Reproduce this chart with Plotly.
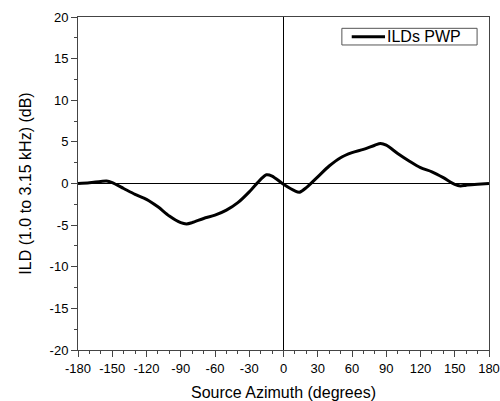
import plotly.graph_objects as go

azimuth = [-180, -170, -160, -155, -150, -140, -130, -120, -110, -100, -90, -85, -80, -70, -60, -50, -40, -30, -20, -15, -10, 0,
           10, 14, 20, 30, 40, 50, 60, 70, 80, 85, 90, 100, 110, 120, 130, 140, 150, 155, 160, 170, 180]
ild_pwp = [0, 0.1, 0.25, 0.3, 0.1, -0.6, -1.3, -1.9, -2.8, -3.9, -4.7, -4.85, -4.7, -4.2, -3.8, -3.2, -2.3, -1.0, 0.5, 1.05, 0.9, -0.1,
           -0.9, -1.05, -0.5, 0.8, 2.1, 3.1, 3.7, 4.1, 4.6, 4.8, 4.6, 3.6, 2.7, 1.9, 1.4, 0.7, -0.1, -0.3, -0.2, -0.1, 0]

x_ticks = [-180, -150, -120, -90, -60, -30, 0, 30, 60, 90, 120, 150, 180]
y_ticks = [-20, -15, -10, -5, 0, 5, 10, 15, 20]
x_labels = [str(v) for v in x_ticks]
y_labels = [str(v) for v in y_ticks]
series_name = "ILDs PWP"

fig = go.Figure()
fig.add_trace(go.Scatter(x=azimuth, y=ild_pwp, mode="lines", name=series_name, showlegend=False,
                         line=dict(color="black", width=3, shape="spline", smoothing=0.8)))

# legend box drawn in paper coordinates (compact, like the original)
fig.add_shape(type="rect", xref="paper", yref="paper", x0=0.642, x1=0.971, y0=0.916, y1=0.966,
              line=dict(color="#555555", width=1), fillcolor="white")
fig.add_shape(type="line", xref="paper", yref="paper", x0=0.666, x1=0.747, y0=0.941, y1=0.941,
              line=dict(color="black", width=3))
fig.add_annotation(text=series_name, xref="paper", yref="paper", x=0.748, y=0.941,
                   xanchor="left", yanchor="middle", showarrow=False, font=dict(size=16))

font = "Liberation Sans, Arial, sans-serif"
fig.update_layout(
    width=500, height=401,
    margin=dict(l=78, r=11, t=17, b=51),
    paper_bgcolor="white", plot_bgcolor="white",
    font=dict(family=font, size=13, color="black"),
    showlegend=False,
    xaxis=dict(range=[-180, 180], tickvals=x_ticks, ticktext=x_labels, ticks="outside", ticklen=6, tickcolor="#444",
               showline=True, linecolor="#444", linewidth=1, mirror=True, showgrid=False,
               zeroline=True, zerolinecolor="black", zerolinewidth=1, automargin=False,
               minor=dict(dtick=10, ticks="outside", ticklen=3, tickcolor="#444"),
               title=dict(text="Source Azimuth (degrees)", font=dict(size=16), standoff=12),
               tickfont=dict(size=13)),
    yaxis=dict(range=[-20, 20], tickvals=y_ticks, ticktext=y_labels, ticks="outside", ticklen=6, tickcolor="#444",
               showline=True, linecolor="#444", linewidth=1, mirror=True, showgrid=False,
               zeroline=True, zerolinecolor="black", zerolinewidth=1, automargin=False,
               minor=dict(tick0=0, dtick=2.5, ticks="outside", ticklen=3, tickcolor="#444"),
               title=dict(text="ILD (1.0 to 3.15 kHz) (dB)", font=dict(size=16), standoff=14),
               tickfont=dict(size=13)),
)

fig.write_html("out.html")
